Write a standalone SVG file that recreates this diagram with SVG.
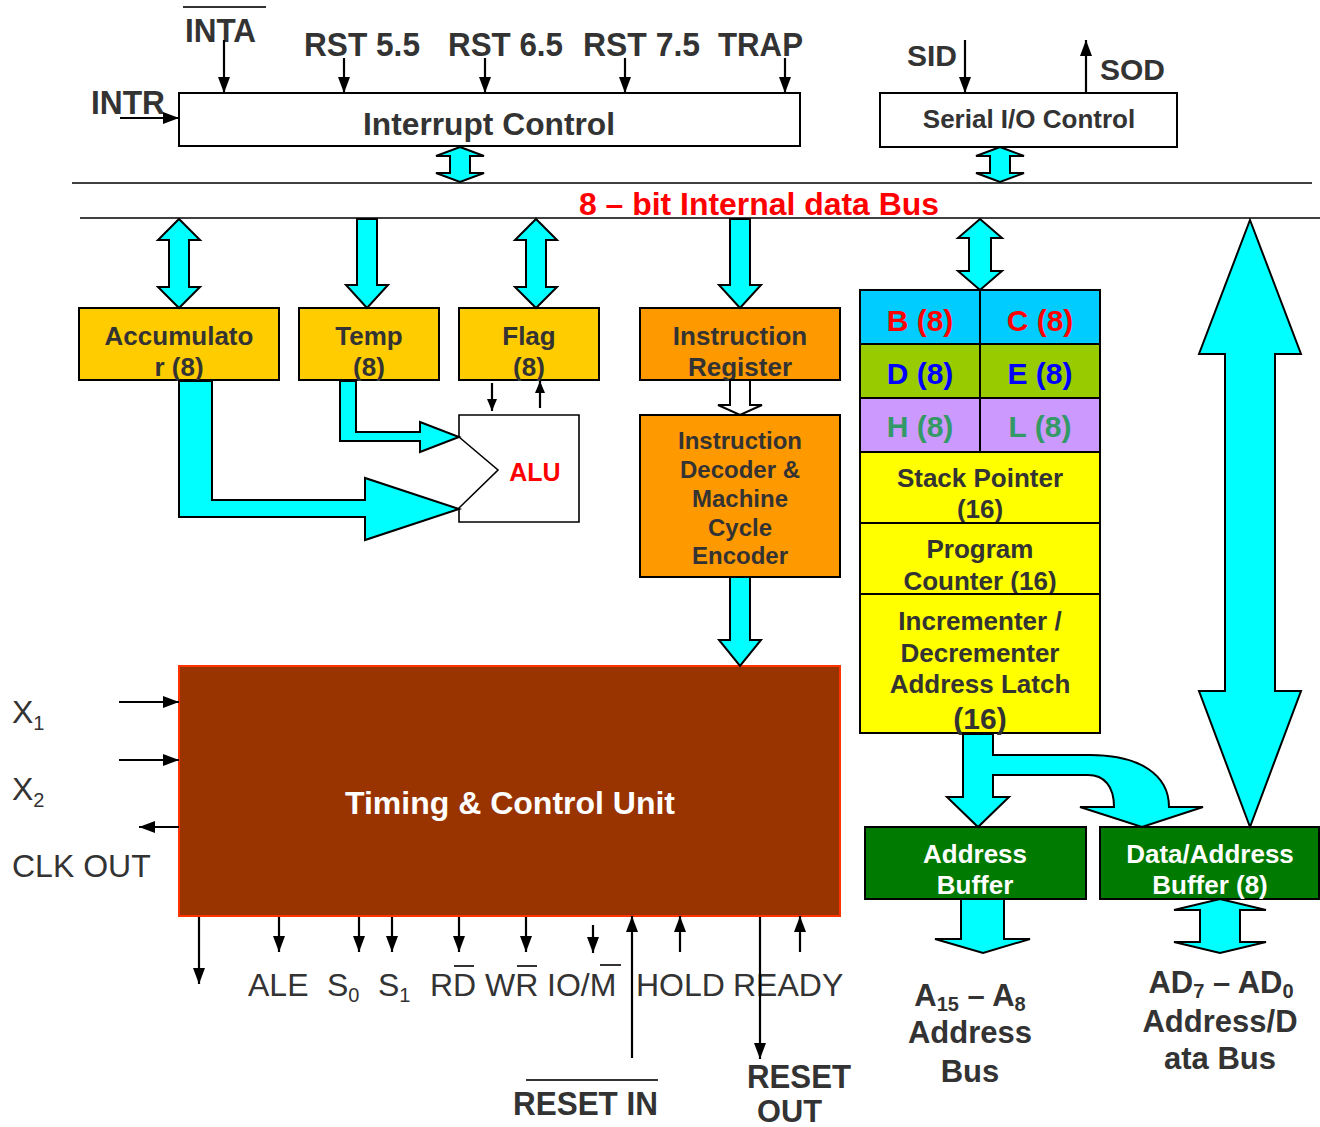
<svg xmlns="http://www.w3.org/2000/svg" width="1320" height="1127" viewBox="0 0 1320 1127">
<style>
  .box{stroke:#000;stroke-width:2}
  .cy{fill:#00FFFF;stroke:#000;stroke-width:2;stroke-linejoin:miter}
  .sig{stroke:#000;stroke-width:2.2;fill:none}
  .t{font-family:"Liberation Sans",Arial,sans-serif;font-weight:bold;fill:#333}
  .n{font-family:"Liberation Sans",Arial,sans-serif;fill:#333}
  .c{text-anchor:middle}
  .ob{stroke:#333;stroke-width:2}
</style>
<defs>
  <marker id="ah" viewBox="0 0 16 12" refX="16" refY="6" markerWidth="16" markerHeight="12" markerUnits="userSpaceOnUse" orient="auto">
    <path d="M0,0 L16,6 L0,12 z" fill="#000"/>
  </marker>
  <marker id="ahs" viewBox="0 0 12 10" refX="12" refY="5" markerWidth="12" markerHeight="10" markerUnits="userSpaceOnUse" orient="auto">
    <path d="M0,0 L12,5 L0,10 z" fill="#000"/>
  </marker>
</defs>

<rect width="1320" height="1127" fill="#fff"/>

<g id="bus">
  <line x1="72" y1="183" x2="1312" y2="183" stroke="#000" stroke-width="1.6"/>
  <line x1="80" y1="218" x2="1320" y2="218" stroke="#000" stroke-width="1.6"/>
  <text x="579" y="215" font-size="31" textLength="360" lengthAdjust="spacingAndGlyphs" style="font-family:'Liberation Sans',Arial,sans-serif;font-weight:bold;fill:#FF0000">8 – bit Internal data Bus</text>
</g>

<g id="interrupt-control">
  <rect class="box" x="179" y="93" width="621" height="53" fill="#fff"/>
  <text class="t" x="363" y="135" font-size="32" textLength="252" lengthAdjust="spacingAndGlyphs">Interrupt Control</text>
</g>

<g id="serial-io">
  <rect class="box" x="880" y="93" width="297" height="54" fill="#fff"/>
  <text class="t c" x="1029" y="128" font-size="26">Serial I/O Control</text>
</g>

<g id="accumulator">
  <rect class="box" x="79" y="308" width="200" height="72" fill="#FFCC00"/>
  <text class="t c" x="179" y="345" font-size="26">Accumulato</text>
  <text class="t c" x="179" y="376" font-size="26">r (8)</text>
</g>

<g id="temp">
  <rect class="box" x="299" y="308" width="140" height="72" fill="#FFCC00"/>
  <text class="t c" x="369" y="345" font-size="26">Temp</text>
  <text class="t c" x="369" y="376" font-size="26">(8)</text>
</g>

<g id="flag">
  <rect class="box" x="459" y="308" width="140" height="72" fill="#FFCC00"/>
  <text class="t c" x="529" y="345" font-size="26">Flag</text>
  <text class="t c" x="529" y="376" font-size="26">(8)</text>
</g>

<g id="alu">
  <path d="M459,415 L579,415 L579,522 L459,522 L459,508 L498,470 L459,437 Z" fill="#fff" stroke="#000" stroke-width="1.6"/>
  <text x="535" y="481" font-size="25" text-anchor="middle" style="font-family:'Liberation Sans',Arial,sans-serif;font-weight:bold;fill:#FF0000">ALU</text>
</g>

<g id="instruction-register">
  <rect class="box" x="640" y="308" width="200" height="72" fill="#FF9900"/>
  <text class="t c" x="740" y="345" font-size="26">Instruction</text>
  <text class="t c" x="740" y="376" font-size="26">Register</text>
</g>

<g id="instruction-decoder">
  <rect class="box" x="640" y="415" width="200" height="162" fill="#FF9900"/>
  <text class="t c" x="740" y="449" font-size="24">Instruction</text>
  <text class="t c" x="740" y="478" font-size="24">Decoder &amp;</text>
  <text class="t c" x="740" y="507" font-size="24">Machine</text>
  <text class="t c" x="740" y="536" font-size="24">Cycle</text>
  <text class="t c" x="740" y="564" font-size="24">Encoder</text>
</g>

<g id="register-file">
  <rect class="box" x="860" y="290" width="120" height="54" fill="#00CCFF"/>
  <rect class="box" x="980" y="290" width="120" height="54" fill="#00CCFF"/>
  <rect class="box" x="860" y="344" width="120" height="54" fill="#99CC00"/>
  <rect class="box" x="980" y="344" width="120" height="54" fill="#99CC00"/>
  <rect class="box" x="860" y="398" width="120" height="54" fill="#CC99FF"/>
  <rect class="box" x="980" y="398" width="120" height="54" fill="#CC99FF"/>
  <g style="font-family:'Liberation Sans',Arial,sans-serif;font-weight:bold;font-size:30px;text-anchor:middle">
    <text x="920" y="331" fill="#FF0000">B (8)</text>
    <text x="1040" y="331" fill="#FF0000">C (8)</text>
    <text x="920" y="384" fill="#0000FF">D (8)</text>
    <text x="1040" y="384" fill="#0000FF">E (8)</text>
    <text x="920" y="437" fill="#339966">H (8)</text>
    <text x="1040" y="437" fill="#339966">L (8)</text>
  </g>
</g>

<g id="stack-pointer">
  <rect class="box" x="860" y="452" width="240" height="71" fill="#FFFF00"/>
  <text class="t c" x="980" y="487" font-size="26">Stack Pointer</text>
  <text class="t c" x="980" y="518" font-size="26">(16)</text>
</g>

<g id="program-counter">
  <rect class="box" x="860" y="523" width="240" height="71" fill="#FFFF00"/>
  <text class="t c" x="980" y="558" font-size="26">Program</text>
  <text class="t c" x="980" y="590" font-size="26">Counter (16)</text>
</g>

<g id="incrementer">
  <rect class="box" x="860" y="594" width="240" height="139" fill="#FFFF00"/>
  <text class="t c" x="980" y="630" font-size="26">Incrementer /</text>
  <text class="t c" x="980" y="662" font-size="26">Decrementer</text>
  <text class="t c" x="980" y="693" font-size="26">Address Latch</text>
  <text class="t c" x="980" y="729" font-size="30">(16)</text>
</g>

<g id="address-buffer">
  <rect class="box" x="865" y="827" width="221" height="72" fill="#007A00"/>
  <text class="t c" x="975" y="863" font-size="26" style="fill:#fff">Address</text>
  <text class="t c" x="975" y="894" font-size="26" style="fill:#fff">Buffer</text>
</g>

<g id="data-address-buffer">
  <rect class="box" x="1100" y="827" width="219" height="72" fill="#007A00"/>
  <text class="t c" x="1210" y="863" font-size="26" style="fill:#fff">Data/Address</text>
  <text class="t c" x="1210" y="894" font-size="26" style="fill:#fff">Buffer (8)</text>
</g>

<g id="timing-control">
  <rect x="179" y="666" width="661" height="250" fill="#993300" stroke="#FF3300" stroke-width="2"/>
  <text class="t c" x="510" y="814" font-size="32" style="fill:#fff">Timing &amp; Control Unit</text>
</g>

<g id="labels">
  <text class="t" x="185" y="42" font-size="34" textLength="71" lengthAdjust="spacingAndGlyphs">INTA</text>
  <line class="ob" x1="183" y1="7" x2="266" y2="7"/>
  <text class="t" x="91" y="114" font-size="34" textLength="74" lengthAdjust="spacingAndGlyphs">INTR</text>
  <text class="t" x="304" y="56" font-size="34" textLength="116" lengthAdjust="spacingAndGlyphs">RST 5.5</text>
  <text class="t" x="448" y="56" font-size="34" textLength="115" lengthAdjust="spacingAndGlyphs">RST 6.5</text>
  <text class="t" x="583" y="56" font-size="34" textLength="117" lengthAdjust="spacingAndGlyphs">RST 7.5</text>
  <text class="t" x="718" y="56" font-size="34" textLength="85" lengthAdjust="spacingAndGlyphs">TRAP</text>
  <text class="t" x="907" y="66" font-size="30">SID</text>
  <text class="t" x="1100" y="80" font-size="30">SOD</text>

  <text class="n" x="12" y="723" font-size="32">X<tspan font-size="20" dy="7">1</tspan></text>
  <text class="n" x="12" y="800" font-size="32">X<tspan font-size="20" dy="7">2</tspan></text>
  <text class="n" x="12" y="877" font-size="32">CLK OUT</text>

  <text class="n" x="248" y="996" font-size="32">ALE</text>
  <text class="n" x="327" y="996" font-size="32">S<tspan font-size="20" dy="6">0</tspan></text>
  <text class="n" x="378" y="996" font-size="32">S<tspan font-size="20" dy="6">1</tspan></text>
  <text class="n" x="430" y="996" font-size="32">RD</text>
  <line class="ob" x1="454" y1="966" x2="474" y2="966"/>
  <text class="n" x="485" y="996" font-size="32">WR</text>
  <line class="ob" x1="517" y1="966" x2="537" y2="966"/>
  <text class="n" x="547" y="996" font-size="32">IO/M</text>
  <line class="ob" x1="600" y1="965" x2="621" y2="965"/>
  <text class="n" x="636" y="996" font-size="32">HOLD</text>
  <text class="n" x="733" y="996" font-size="32">READY</text>

  <text class="t" x="513" y="1115" font-size="33" textLength="145" lengthAdjust="spacingAndGlyphs">RESET IN</text>
  <line class="ob" x1="526" y1="1080" x2="658" y2="1080"/>
  <text class="t" x="747" y="1088" font-size="33" textLength="104" lengthAdjust="spacingAndGlyphs">RESET</text>
  <text class="t" x="757" y="1122" font-size="32" textLength="65" lengthAdjust="spacingAndGlyphs">OUT</text>

  <text class="t c" x="970" y="1006" font-size="31">A<tspan font-size="20" dy="5">15</tspan><tspan dy="-5"> – A</tspan><tspan font-size="20" dy="5">8</tspan></text>
  <text class="t c" x="970" y="1043" font-size="31">Address</text>
  <text class="t c" x="970" y="1082" font-size="31">Bus</text>
  <text class="t c" x="1221" y="993" font-size="31">AD<tspan font-size="20" dy="5">7</tspan><tspan dy="-5"> – AD</tspan><tspan font-size="20" dy="5">0</tspan></text>
  <text class="t c" x="1220" y="1032" font-size="31">Address/D</text>
  <text class="t c" x="1220" y="1069" font-size="31">ata Bus</text>
</g>

<g id="connectors">
  <line class="sig" x1="224" y1="40" x2="224" y2="93" marker-end="url(#ah)"/>
  <line class="sig" x1="344" y1="58" x2="344" y2="93" marker-end="url(#ah)"/>
  <line class="sig" x1="485" y1="58" x2="485" y2="93" marker-end="url(#ah)"/>
  <line class="sig" x1="625" y1="58" x2="625" y2="93" marker-end="url(#ah)"/>
  <line class="sig" x1="785" y1="58" x2="785" y2="93" marker-end="url(#ah)"/>
  <line class="sig" x1="120" y1="118" x2="179" y2="118" marker-end="url(#ah)"/>
  <line class="sig" x1="965" y1="40" x2="965" y2="93" marker-end="url(#ah)"/>
  <line class="sig" x1="1086" y1="93" x2="1086" y2="40" marker-end="url(#ah)"/>

  <line class="sig" x1="492" y1="383" x2="492" y2="411" marker-end="url(#ahs)"/>
  <line class="sig" x1="540" y1="408" x2="540" y2="381" marker-end="url(#ahs)"/>

  <line class="sig" x1="119" y1="702" x2="179" y2="702" marker-end="url(#ah)"/>
  <line class="sig" x1="119" y1="760" x2="179" y2="760" marker-end="url(#ah)"/>
  <line class="sig" x1="179" y1="827" x2="139" y2="827" marker-end="url(#ah)"/>

  <line class="sig" x1="199" y1="917" x2="199" y2="984" marker-end="url(#ah)"/>
  <line class="sig" x1="279" y1="917" x2="279" y2="952" marker-end="url(#ah)"/>
  <line class="sig" x1="359" y1="917" x2="359" y2="952" marker-end="url(#ah)"/>
  <line class="sig" x1="392" y1="917" x2="392" y2="952" marker-end="url(#ah)"/>
  <line class="sig" x1="459" y1="917" x2="459" y2="952" marker-end="url(#ah)"/>
  <line class="sig" x1="526" y1="917" x2="526" y2="952" marker-end="url(#ah)"/>
  <line class="sig" x1="593" y1="925" x2="593" y2="953" marker-end="url(#ah)"/>
  <line class="sig" x1="632" y1="1058" x2="632" y2="916" marker-end="url(#ah)"/>
  <line class="sig" x1="680" y1="952" x2="680" y2="916" marker-end="url(#ah)"/>
  <line class="sig" x1="760" y1="917" x2="760" y2="1059" marker-end="url(#ah)"/>
  <line class="sig" x1="800" y1="952" x2="800" y2="916" marker-end="url(#ah)"/>

  <polygon class="cy" points="460,147 484,156 470,156 470,173 484,173 460,182 436,173 450,173 450,156 436,156"/>
  <polygon class="cy" points="1000,147 1024,156 1010,156 1010,173 1024,173 1000,182 976,173 990,173 990,156 976,156"/>
  <polygon class="cy" points="179,219 200,240 189,240 189,287 200,287 179,308 158,287 169,287 169,240 158,240"/>
  <polygon class="cy" points="357,219 377,219 377,285 388,285 367,308 346,285 357,285"/>
  <polygon class="cy" points="536,219 557,240 546,240 546,287 557,287 536,308 515,287 526,287 526,240 515,240"/>
  <polygon class="cy" points="730,219 750,219 750,285 761,285 740,308 719,285 730,285"/>
  <polygon class="cy" points="980,219 1002,238 991,238 991,271 1002,271 980,290 958,271 969,271 969,238 958,238"/>
  <polygon points="730,380 750,380 750,405 762,405 740,415 718,405 730,405" fill="#fff" stroke="#000" stroke-width="2"/>
  <polygon class="cy" points="730,577 750,577 750,640 761,640 740,666 719,640 730,640"/>

  <polygon class="cy" points="179,381 212,381 212,500 365,500 365,478 459,509 365,540 365,517 179,517"/>
  <polygon class="cy" points="340,381 356,381 356,432 420,432 420,422 459,437 420,452 420,441 340,441"/>

  <polygon class="cy" points="1250,220 1301,354 1275,354 1275,691 1301,691 1250,827 1199,691 1225,691 1225,354 1199,354"/>

  <path class="cy" d="M963,734 L993,734 L993,755 L1090,755 C1140,755 1169,775 1169,807 L1203,807 L1142,827 L1080,807 L1114,807 C1114,786 1104,775 1088,775 L993,775 L993,797 L1009,797 L978,827 L947,797 L963,797 Z"/>

  <polygon class="cy" points="961,899 1004,899 1004,939 1030,939 983,953 935,939 961,939"/>
  <polygon class="cy" points="1220,899 1266,910 1240,910 1240,942 1266,942 1220,953 1174,942 1200,942 1200,910 1174,910"/>
</g>
</svg>
